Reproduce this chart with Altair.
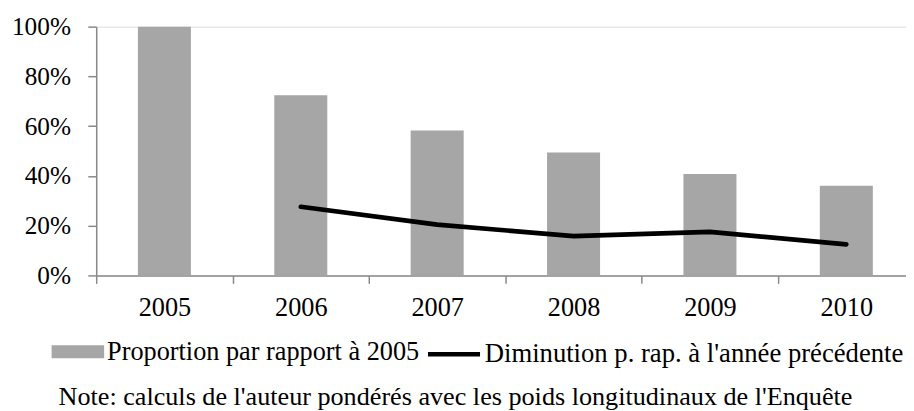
import altair as alt
import pandas as pd

years = [2005, 2006, 2007, 2008, 2009, 2010]
proportion = [100, 72.4, 58.2, 49.4, 40.8, 36.0]
line_years = [2006, 2007, 2008, 2009, 2010]
diminution = [27.6, 20.4, 15.8, 17.5, 12.5]
series = ["Proportion par rapport à 2005", "Diminution p. rap. à l'année précédente"]
y_ticks = [0, 20, 40, 60, 80, 100]
x_boundaries = [2004.5, 2005.5, 2006.5, 2007.5, 2008.5, 2009.5]
note = "Note: calculs de l'auteur pondérés avec les poids longitudinaux de l'Enquête"

bars_df = pd.DataFrame({"year": years, "value": proportion, "series": series[0]})
line_df = pd.DataFrame({"year": line_years, "value": diminution, "series": series[1]})

FONT = "Liberation Serif"
AXIS_GRAY = "#898989"
BAR_GRAY = "#a6a6a6"
PLOT_W = 817
STEP = 137.6  # pixels per year category

x_scale = alt.Scale(domain=[2004.5, 2004.5 + PLOT_W / STEP], nice=False, zero=False, padding=0)
x = alt.X(
    "year:Q",
    scale=x_scale,
    axis=alt.Axis(
        title=None, values=x_boundaries, labelExpr="format(datum.value + 0.5, 'd')",
        labelOffset=STEP / 2, labelFlush=False, labelBound=False, labelOverlap=False,
        labelAngle=0, tickSize=8, labelPadding=11.5,
        labelFontSize=26.5, labelFont=FONT, labelColor="black", grid=False,
        domainColor=AXIS_GRAY, tickColor=AXIS_GRAY, domainWidth=1.5, tickWidth=1.5,
    ),
)
y = alt.Y(
    "value:Q",
    scale=alt.Scale(domain=[0, 100], nice=False, padding=0),
    axis=alt.Axis(
        values=y_ticks, labelExpr="datum.value + '%'", title=None, grid=False,
        tickSize=8.5, labelPadding=17.5, labelFontSize=25.5, labelFont=FONT,
        labelColor="black", domainColor=AXIS_GRAY, tickColor=AXIS_GRAY,
        domainWidth=1.5, tickWidth=1.5,
    ),
)

fill = alt.Fill(
    "series:N",
    scale=alt.Scale(domain=[series[0]], range=[BAR_GRAY]),
    legend=alt.Legend(
        orient="none", legendX=-45, legendY=301.5, direction="horizontal", title=None,
        padding=0, symbolType="M-1,-0.245H1V0.245H-1Z", symbolSize=2809,
        symbolStrokeWidth=0, symbolFillColor=BAR_GRAY, symbolOpacity=1,
        labelFont=FONT, labelFontSize=26.5, labelColor="black", labelLimit=0,
        labelOffset=3,
    ),
)
stroke = alt.Stroke(
    "series:N",
    scale=alt.Scale(domain=[series[1]], range=["black"]),
    legend=alt.Legend(
        orient="none", legendX=332, legendY=301.5, direction="horizontal", title=None,
        padding=0, symbolType="M-1,0H1", symbolSize=2756, symbolStrokeWidth=4.7,
        symbolOpacity=1, labelFont=FONT, labelFontSize=26.9, labelColor="black",
        labelLimit=0, labelOffset=2,
    ),
)

bars = alt.Chart(bars_df).mark_bar(width=53.5).encode(x=x, y=y, fill=fill)
line = alt.Chart(line_df).mark_line(strokeWidth=4.7, strokeCap="round", strokeJoin="round").encode(
    x=alt.X("year:Q"), y="value:Q", stroke=stroke
)

chart = (
    alt.layer(bars, line)
    .properties(
        width=PLOT_W,
        height=251,
        autosize=alt.AutoSizeParams(type="none"),
        padding={"left": 89, "top": 17, "right": 0, "bottom": 135},
        title=alt.Title(
            note, orient="bottom", anchor="start", frame="group", dx=-38, offset=17,
            baseline="top", fontSize=26.4, font=FONT, fontWeight="normal", color="black",
        ),
    )
    .configure_view(stroke=None)
    .configure(background="white")
)

chart.save("out.html", embed_options={"renderer": "svg", "actions": False})
